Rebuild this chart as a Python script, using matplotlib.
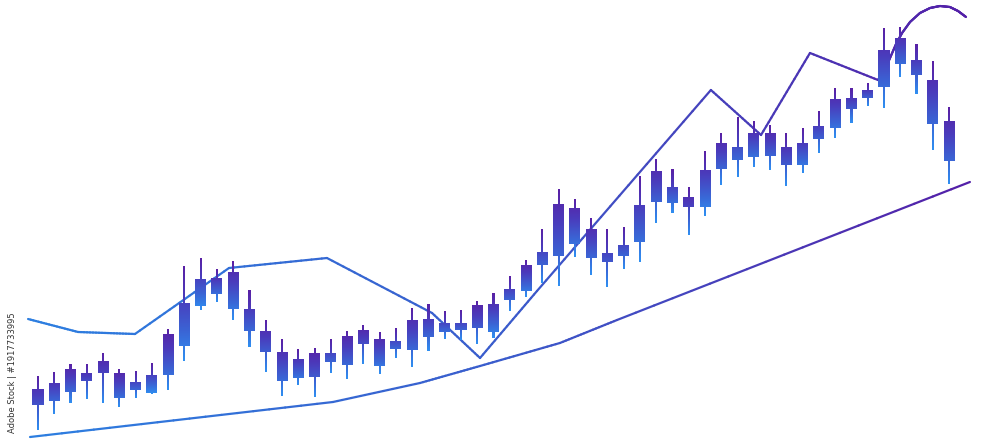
import numpy as np
import matplotlib
matplotlib.use("Agg")
import matplotlib.pyplot as plt
from matplotlib.collections import LineCollection
from matplotlib.colors import LinearSegmentedColormap
from matplotlib.path import Path
from matplotlib.patches import PathPatch

# ---- candle data (price units, one candle per session) ----
body_top = [55, 61, 75, 71, 83, 71, 62, 69, 110, 141, 165, 166, 172, 135, 113, 92, 85, 91, 91, 108,
            114, 105, 103, 124, 125, 121, 121, 139, 140, 155, 179, 192, 240, 236, 215, 191, 199, 239,
            273, 257, 247, 274, 301, 297, 311, 311, 297, 301, 318, 345, 346, 354, 394, 406, 384, 364, 323]
body_bot = [39, 43, 52, 63, 71, 46, 54, 51, 69, 98, 138, 150, 135, 113, 92, 63, 66, 67, 82, 79,
            100, 78, 95, 94, 107, 112, 114, 116, 112, 144, 153, 179, 188, 200, 186, 182, 188, 202,
            242, 241, 237, 237, 275, 284, 287, 288, 279, 279, 305, 316, 335, 346, 357, 380, 369, 320, 283]
high = [68, 72, 80, 80, 91, 75, 73, 81, 115, 178, 186, 175, 183, 154, 124, 105, 95, 96, 105, 113,
        119, 112, 116, 136, 140, 133, 134, 143, 151, 168, 184, 215, 255, 245, 226, 215, 217, 268,
        285, 275, 257, 293, 311, 327, 323, 319, 311, 316, 333, 356, 356, 361, 416, 417, 400, 383, 337]
low = [14, 30, 41, 45, 41, 37, 46, 50, 54, 83, 134, 142, 124, 97, 72, 48, 59, 47, 71, 65,
       80, 70, 86, 77, 93, 105, 104, 100, 106, 133, 147, 161, 158, 187, 169, 157, 175, 182,
       221, 231, 209, 228, 259, 267, 277, 274, 258, 271, 291, 306, 321, 338, 336, 367, 350, 294, 260]

# ---- overlay lines (x in session units) ----
upper_x = [-0.61, 2.46, 5.96, 11.74, 17.76, 24.22, 27.17, 30.67, 41.36, 44.44, 47.45, 51.63,
           52.00, 52.37, 52.74, 53.11, 53.60, 54.21, 54.83, 55.44, 56.05, 56.55, 57.04]
upper_y = [125, 112, 110, 176, 186, 131, 86, 153, 354, 309, 391, 364,
           372, 386, 400, 411, 422, 431, 436, 438, 437, 433, 427]
lower_x = [-0.49, 18.13, 23.48, 27.17, 32.08, 35.59, 57.28]
lower_y = [7, 42, 61, 78, 101, 124, 262]

candle_cmap = LinearSegmentedColormap.from_list(
    "candle", [(0, "#2f90f2"), (0.3, "#3a66d6"), (0.65, "#4a3cbc"), (1, "#5a1fa4")])
line_cmap = LinearSegmentedColormap.from_list("line", ["#2d7ee0", "#3a5ccc", "#5320a8"])

fig = plt.figure(figsize=(10, 4.44), dpi=100)
ax = fig.add_axes([0, 0, 1, 1])
ax.set_xlim(-2.336, 59.13)
ax.set_ylim(0, 444)
ax.axis("off")


def grad_line(xs, ys, lw):
    xs = np.asarray(xs, float); ys = np.asarray(ys, float)
    # densify so the colour changes smoothly along x
    px, py = [xs[0]], [ys[0]]
    for i in range(len(xs) - 1):
        t = np.linspace(0, 1, 20)[1:]
        px.extend(xs[i] + (xs[i + 1] - xs[i]) * t)
        py.extend(ys[i] + (ys[i + 1] - ys[i]) * t)
    px = np.array(px); py = np.array(py)
    pts = np.column_stack([px, py]).reshape(-1, 1, 2)
    segs = np.concatenate([pts[:-1], pts[1:]], axis=1)
    lc = LineCollection(segs, cmap=line_cmap, norm=plt.Normalize(0, 57), linewidths=lw,
                        capstyle="round", joinstyle="round", zorder=3)
    lc.set_array((px[:-1] + px[1:]) / 2)
    ax.add_collection(lc)


grad_line(lower_x, lower_y, 1.6)
grad_line(upper_x, upper_y, 1.6)

bw, ww = 0.68, 0.13
grad = np.linspace(0, 1, 256).reshape(-1, 1)
for i in range(len(high)):
    verts = [(i - bw / 2, body_bot[i]), (i + bw / 2, body_bot[i]), (i + bw / 2, body_top[i]),
             (i - bw / 2, body_top[i]), (i - bw / 2, body_bot[i]),
             (i - ww / 2, low[i]), (i + ww / 2, low[i]), (i + ww / 2, high[i]),
             (i - ww / 2, high[i]), (i - ww / 2, low[i])]
    codes = [Path.MOVETO, Path.LINETO, Path.LINETO, Path.LINETO, Path.CLOSEPOLY] * 2
    patch = PathPatch(Path(verts, codes), facecolor="none", edgecolor="none")
    ax.add_patch(patch)
    im = ax.imshow(grad, cmap=candle_cmap, origin="lower", aspect="auto",
                   extent=(i - bw / 2, i + bw / 2, low[i], high[i]), zorder=4)
    im.set_clip_path(patch)

ax.set_xlim(-2.336, 59.13)
ax.set_ylim(0, 444)

fig.text(0.013, 0.16, "Adobe Stock | #1917733995", rotation=90, fontsize=6,
         color="#333333", ha="center", va="center")

fig.savefig("out.png", dpi=100)
